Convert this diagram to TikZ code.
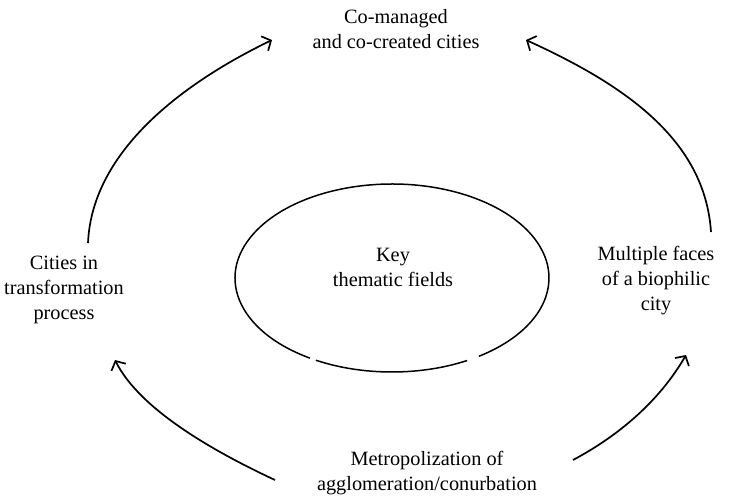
\documentclass[tikz,border=0pt]{standalone}
\usepackage{fontspec}
\setmainfont{Liberation Serif}
\usetikzlibrary{arrows.meta,shapes.geometric}
\begin{document}
\begin{tikzpicture}[x=1pt,y=-1pt,
  lbl/.style={align=center,font=\fontsize{20.3}{25}\selectfont,inner sep=0pt},
  ring/.style={line width=1.5pt},
  arc/.style={line width=1.7pt,-{Straight Barb[length=7pt,width=16pt,line width=1.7pt]}}]
\useasboundingbox (0,0) rectangle (737,498);
\node[ellipse,minimum width=314pt,minimum height=188pt] (ell) at (392,278) {};
\draw[ring] ([shift={(121.5:157 and 94)}]ell.center) arc[start angle=121.5,end angle=416.4,x radius=157,y radius=94];
\draw[ring] ([shift={(61.4:157 and 94)}]ell.center) arc[start angle=61.4,end angle=119,x radius=157,y radius=94];
\node[lbl] (key) at (393,267) {Key\\thematic fields};
\node[lbl] (top) at (396,29) {Co-managed\\and co-created cities};
\node[lbl] (left) at (64,290) {Cities in\\transformation\\process};
\node[lbl] (right) at (656,281) {Multiple faces\\of a biophilic\\city};
\node[lbl] (bot) at (427,473) {Metropolization of\\agglomeration/conurbation};
\coordinate (l0) at (88,243);
\coordinate (l1) at (272,40);
\coordinate (r0) at (711,232);
\coordinate (r1) at (526,40);
\coordinate (bl0) at (275,480);
\coordinate (bl1) at (115,360);
\coordinate (br0) at (573,460);
\coordinate (br1) at (686,355);
\draw[arc] (l0) .. controls (92,150) and (185,82) .. (l1);
\draw[arc] (r0) .. controls (705,140) and (625,85) .. (r1);
\draw[arc] (bl0) .. controls (215,452) and (140,410) .. (bl1);
\draw[arc] (br0) .. controls (620,435) and (660,400) .. (br1);
\end{tikzpicture}
\end{document}
